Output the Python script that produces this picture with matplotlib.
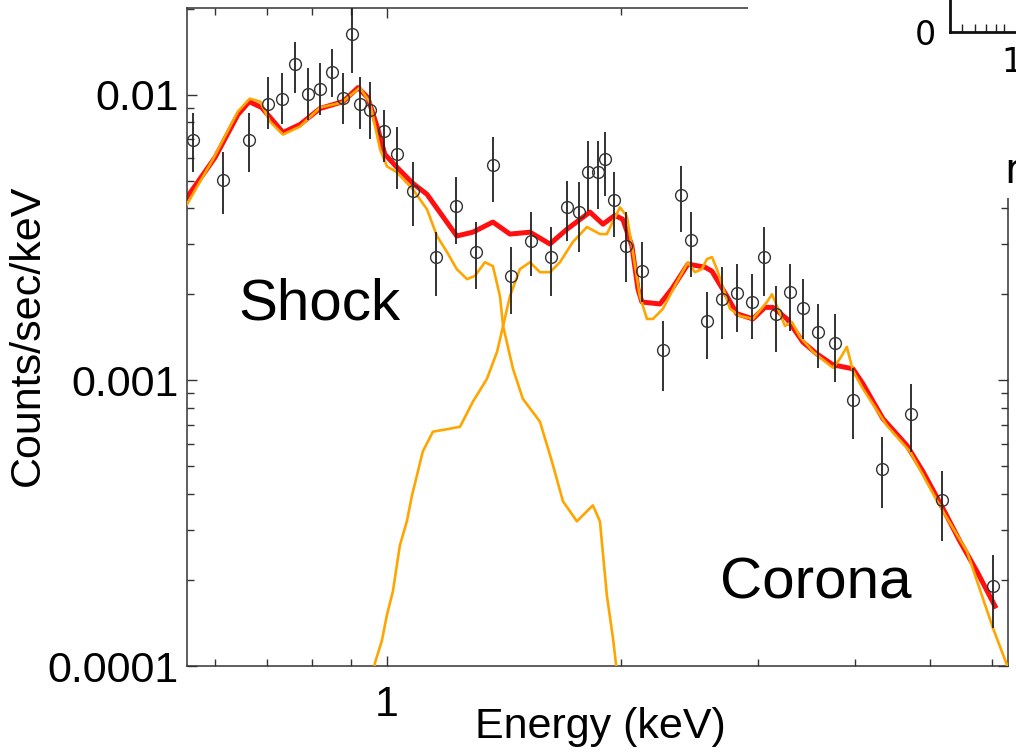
import numpy as np
import matplotlib
matplotlib.use("Agg")
import matplotlib.pyplot as plt
from matplotlib.patches import Rectangle
from matplotlib.ticker import LogLocator, NullFormatter, FixedLocator

plt.rcParams['font.family'] = ['Liberation Sans', 'DejaVu Sans']

# rates are in units of 1e-3 counts/sec/keV
SCALE = 1e-3

# observed spectrum (energy in keV)
energy = [0.563, 0.615, 0.665, 0.703, 0.733, 0.761, 0.791, 0.820, 0.850, 0.878,
          0.901, 0.923, 0.951, 0.991, 1.030, 1.080, 1.156, 1.227, 1.302, 1.369,
          1.444, 1.532, 1.626, 1.705, 1.766, 1.814, 1.869, 1.908, 1.960, 2.030,
          2.129, 2.266, 2.390, 2.462, 2.581, 2.698, 2.821, 2.950, 3.056, 3.167,
          3.302, 3.431, 3.587, 3.772, 3.979, 4.336, 4.725, 5.180, 6.026]
rate = [6.91, 5.01, 6.91, 9.30, 9.68, 12.83, 10.08, 10.49, 12.03, 9.76,
        16.33, 9.30, 8.86, 7.43, 6.22, 4.59, 2.70, 4.07, 2.81, 5.65,
        2.32, 3.07, 2.70, 4.03, 3.87, 5.38, 5.38, 5.93, 4.27, 2.95,
        2.41, 1.28, 4.44, 3.09, 1.61, 1.93, 2.02, 1.88, 2.70, 1.71,
        2.04, 1.79, 1.48, 1.35, 0.855, 0.491, 0.764, 0.380, 0.190]
rate_lo = [5.38, 3.81, 5.38, 7.55, 7.86, 10.16, 8.18, 8.51, 9.84, 7.86,
           11.93, 7.55, 6.97, 5.83, 4.66, 3.46, 1.97, 2.99, 2.09, 4.20,
           1.71, 2.32, 1.97, 3.07, 2.81, 3.91, 3.97, 4.41, 3.17, 2.21,
           1.88, 0.919, 3.30, 2.30, 1.19, 1.40, 1.48, 1.40, 1.97, 1.26,
           1.49, 1.40, 1.10, 0.988, 0.625, 0.356, 0.563, 0.273, 0.1357]
rate_hi = [8.65, 6.32, 8.65, 11.56, 11.93, 15.31, 12.42, 12.93, 14.48, 11.93,
           20.28, 11.56, 11.10, 8.86, 7.73, 5.79, 3.30, 5.13, 3.57, 7.08,
           2.92, 3.87, 3.43, 4.97, 4.93, 6.86, 6.86, 7.37, 5.34, 3.87,
           3.04, 1.61, 5.61, 3.87, 2.04, 2.49, 2.55, 2.35, 3.43, 2.14,
           2.55, 2.26, 1.85, 1.71, 1.10, 0.635, 0.972, 0.483, 0.244]

# total model
total_e = [0.553, 0.601, 0.643, 0.665, 0.690, 0.735, 0.773, 0.820, 0.878, 0.918,
           0.945, 0.974, 0.994, 1.030, 1.080, 1.126, 1.230, 1.290, 1.369, 1.440,
           1.528, 1.621, 1.705, 1.825, 1.897, 1.965, 2.012, 2.067, 2.104, 2.129,
           2.246, 2.327, 2.440, 2.566, 2.620, 2.739, 2.821, 2.958, 3.065, 3.139,
           3.273, 3.431, 3.576, 3.750, 3.979, 4.099, 4.349, 4.670, 4.897, 5.195,
           5.464, 5.745, 6.062]
total_r = [4.37, 6.03, 8.51, 9.45, 9.01, 7.37, 7.86, 8.94, 9.45, 10.58,
           9.76, 7.55, 6.18, 5.57, 4.89, 4.48, 3.20, 3.30, 3.58, 3.25,
           3.30, 3.00, 3.38, 3.88, 3.52, 3.78, 3.66, 2.95, 2.09, 1.88,
           1.85, 2.09, 2.55, 2.49, 2.41, 1.97, 1.71, 1.64, 1.80, 1.80,
           1.64, 1.36, 1.237, 1.133, 1.097, 0.972, 0.734, 0.591, 0.479, 0.356,
           0.273, 0.2146, 0.162]

# shock component
shock_e = [0.553, 0.597, 0.643, 0.666, 0.687, 0.707, 0.735, 0.773, 0.820, 0.875,
           0.923, 0.951, 0.980, 1.000, 1.030, 1.080, 1.126, 1.160, 1.195, 1.230,
           1.268, 1.298, 1.337, 1.369, 1.398, 1.411, 1.453, 1.496, 1.574, 1.631,
           1.685, 1.756, 1.841, 1.880, 1.919, 1.954, 1.995]
shock_r = [4.13, 5.93, 8.72, 9.68, 9.45, 8.05, 7.25, 7.73, 9.01, 9.38,
           10.58, 9.38, 6.43, 5.61, 5.35, 4.66, 3.97, 3.20, 2.81, 2.45,
           2.26, 2.32, 2.59, 2.51, 1.97, 1.55, 1.097, 0.862, 0.716, 0.519,
           0.377, 0.321, 0.365, 0.321, 0.1769, 0.1252, 0.0773]

# corona component
corona_e = [0.957, 0.965, 0.985, 1.000, 1.018, 1.039, 1.061, 1.077, 1.093, 1.112,
            1.146, 1.205, 1.242, 1.290, 1.345, 1.386, 1.411, 1.440, 1.483, 1.528,
            1.574, 1.621, 1.670, 1.735, 1.809, 1.880, 1.919, 1.954, 1.995, 2.036,
            2.073, 2.116, 2.161, 2.200, 2.266, 2.362, 2.440, 2.491, 2.543, 2.581,
            2.620, 2.659, 2.764, 2.847, 2.958, 3.084, 3.130, 3.177, 3.253, 3.321,
            3.401, 3.534, 3.750, 3.828, 3.908, 3.979, 4.099, 4.401, 4.712, 5.195,
            5.578, 6.026, 6.338]
corona_r = [0.0773, 0.1024, 0.1223, 0.1507, 0.1827, 0.264, 0.321, 0.395, 0.464, 0.563,
            0.661, 0.677, 0.688, 0.841, 1.012, 1.258, 1.549, 1.97, 2.45, 2.59,
            2.39, 2.39, 2.59, 3.05, 3.44, 3.25, 3.25, 3.60, 4.03, 3.75,
            2.81, 1.97, 1.64, 1.64, 1.78, 2.21, 2.59, 2.39, 2.45, 2.655,
            2.70, 2.45, 1.78, 1.68, 1.64, 1.88, 2.00, 1.82, 1.55, 1.60,
            1.42, 1.26, 1.106, 1.189, 1.309, 1.080, 0.934, 0.694, 0.563, 0.348,
            0.252, 0.1357, 0.0945]

ytick_vals = [1e-4, 1e-3, 1e-2]
ytick_labels = ['0.0001', '0.001', '0.01']


def main():
    fig = plt.figure(figsize=(10.16, 7.56), dpi=100)
    ax = fig.add_axes([187 / 1016, 90 / 756, 821 / 1016, 658 / 756])

    r = np.array(rate) * SCALE
    lo = np.array(rate_lo) * SCALE
    hi = np.array(rate_hi) * SCALE

    ax.plot(total_e, np.array(total_r) * SCALE, color='#ff1010', lw=3.6,
            solid_joinstyle='round', zorder=2)
    ax.plot(shock_e, np.array(shock_r) * SCALE, color='#ffa500', lw=1.9, zorder=3)
    ax.plot(corona_e, np.array(corona_r) * SCALE, color='#ffa500', lw=1.9, zorder=3)
    ax.errorbar(energy, r, yerr=[r - lo, hi - r], fmt='o', mfc='none',
                mec='#333333', mew=1.0, ms=8.5, ecolor='#222222',
                elinewidth=1.3, capsize=0, zorder=4)

    ax.set_xscale('log')
    ax.set_yscale('log')
    ax.set_xlim(0.553, 6.3)
    ax.set_ylim(1e-4, 0.0201)

    ax.xaxis.set_major_locator(FixedLocator([1]))
    ax.set_xticklabels(['1'])
    ax.xaxis.set_minor_locator(LogLocator(base=10, subs=np.arange(2, 10)))
    ax.xaxis.set_minor_formatter(NullFormatter())
    ax.yaxis.set_major_locator(FixedLocator(ytick_vals))
    ax.set_yticklabels(ytick_labels)
    ax.yaxis.set_minor_locator(LogLocator(base=10, subs=np.arange(2, 10)))
    ax.yaxis.set_minor_formatter(NullFormatter())

    ax.tick_params(which='both', direction='in', top=True, right=True,
                   width=1.0, color='#333333', labelsize=31)
    ax.tick_params(which='major', length=7.5)
    ax.tick_params(which='minor', length=5)
    ax.tick_params(axis='x', pad=14)
    ax.tick_params(axis='y', pad=6)
    for sp in ax.spines.values():
        sp.set_color('#333333')
        sp.set_linewidth(1.1)

    fig.text(28 / 1016, (756 - 335) / 756, 'Counts/sec/keV', rotation=90,
             ha='center', va='center', fontsize=31)
    fig.text(600 / 1016, (756 - 727) / 756, 'Energy (keV)',
             ha='center', va='center', fontsize=31)

    ax.text(0.0625, 0.526, 'Shock', transform=ax.transAxes, fontsize=42,
            ha='left', va='baseline', zorder=5)
    ax.text(0.649, 0.102, 'Corona', transform=ax.transAxes, fontsize=42,
            ha='left', va='baseline', zorder=5)

    # neighbouring panel overlapping the top right corner
    fig.add_artist(Rectangle((748 / 1016, (756 - 198) / 756), 0.3, 0.3,
                             transform=fig.transFigure, facecolor='white',
                             edgecolor='none', zorder=1))
    ax2 = fig.add_axes([950 / 1016, (756 - 32) / 756, 0.3, 0.3], zorder=2)
    ax2.set_xscale('log')
    ax2.set_xlim(0.421, 29.6)
    ax2.set_ylim(0, 1)
    ax2.xaxis.set_major_locator(FixedLocator([1]))
    ax2.set_xticklabels(['1'])
    ax2.xaxis.set_minor_locator(LogLocator(base=10, subs=np.arange(2, 10)))
    ax2.xaxis.set_minor_formatter(NullFormatter())
    ax2.yaxis.set_major_locator(FixedLocator([0]))
    ax2.set_yticklabels(['0'])
    ax2.tick_params(which='both', direction='in', labelsize=24, color='#222222')
    ax2.tick_params(which='major', length=0)
    ax2.tick_params(which='minor', length=6, width=1.0)
    ax2.tick_params(axis='x', pad=10)
    ax2.tick_params(axis='y', pad=10)
    for lbl in ax2.get_xticklabels() + ax2.get_yticklabels():
        lbl.set_family('DejaVu Sans')
    ax2.spines['top'].set_visible(False)
    ax2.spines['right'].set_visible(False)
    for sp in ('left', 'bottom'):
        ax2.spines[sp].set_linewidth(2.0)
        ax2.spines[sp].set_color('#111111')
    fig.text(1004 / 1016, (756 - 183) / 756, 'r', fontsize=30,
             family='DejaVu Sans', ha='left', va='baseline')

    fig.savefig('out.png', dpi=100)


if __name__ == "__main__":
    main()
